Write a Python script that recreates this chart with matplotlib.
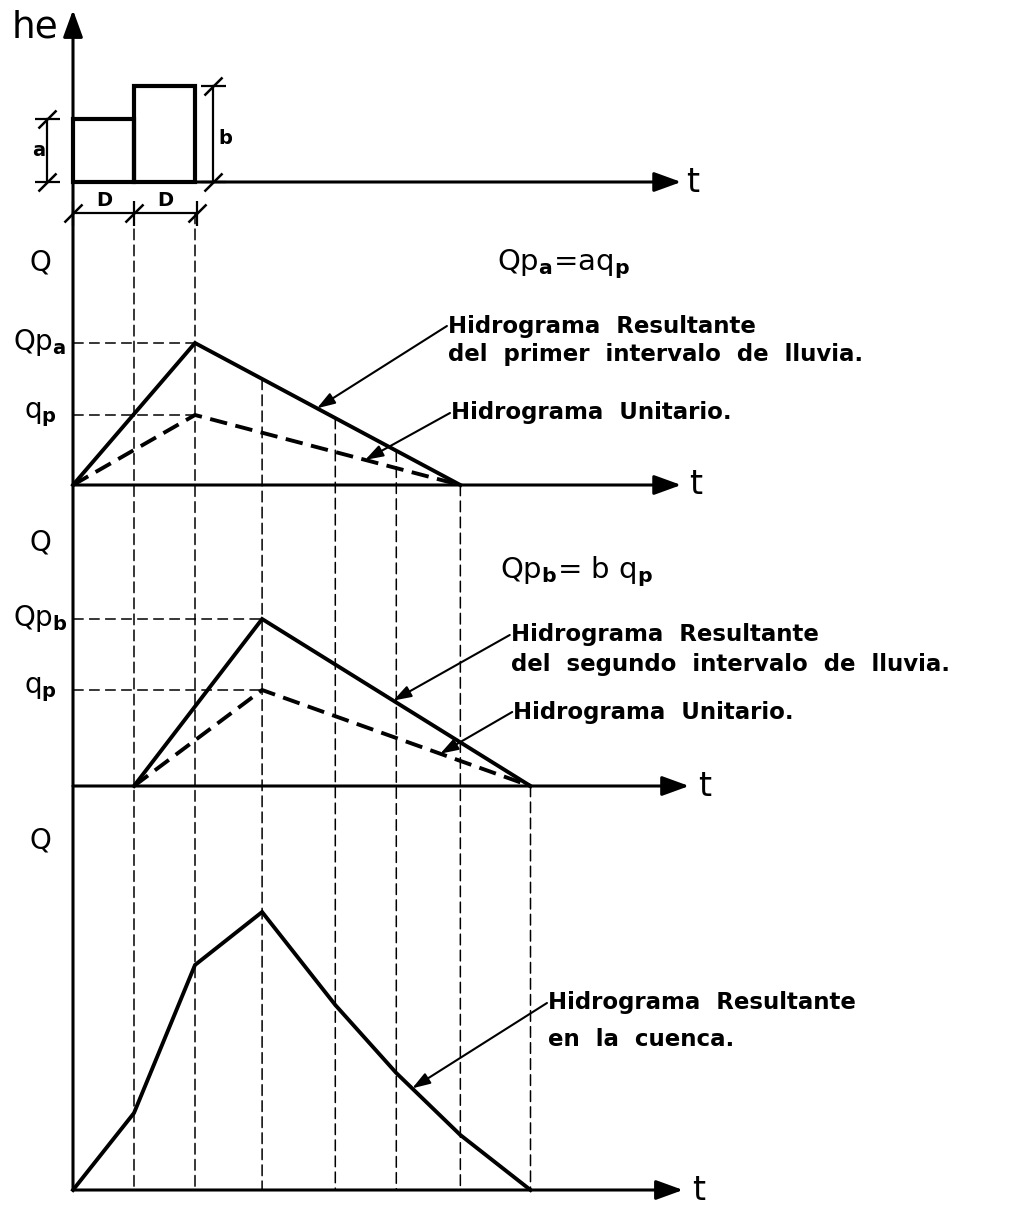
import numpy as np
import matplotlib
matplotlib.use("Agg")
import matplotlib.pyplot as plt
from matplotlib.patches import ConnectionPatch
from matplotlib.markers import MarkerStyle
from matplotlib.path import Path

# ordenadas del hidrograma (tiempo en intervalos D)
t_ord = [0.0, 1.0, 2.0, 3.1, 4.3, 5.3, 6.35, 7.5]

# lluvia efectiva: dos intervalos de duracion D (alturas a y b)
t_lluvia = [0.0, 1.0]
he = [6.3, 9.6]

# hidrograma del primer intervalo de lluvia
t_h1 = [0.0, 2.0, 6.35]
q_h1 = [0.0, 14.2, 0.0]   # resultante, pico Qpa
q_u1 = [0.0, 7.0, 0.0]    # unitario, pico qp

# hidrograma del segundo intervalo de lluvia
t_h2 = [1.0, 3.1, 7.5]
q_h2 = [0.0, 16.7, 0.0]   # resultante, pico Qpb
q_u2 = [0.0, 9.6, 0.0]    # unitario, pico qp

# hidrograma resultante en la cuenca (en t_ord)
q_res = [0.0, 7.7, 22.5, 27.8, 18.5, 11.7, 5.5, 0.0]

W, H = 1015, 1206
X0, PX, SC = 73, 61.0, 10.0

plt.rcParams['font.family'] = ['DejaVu Sans']
fig = plt.figure(figsize=(W / 100, H / 100), dpi=100)


def panel(top, bottom, base):
    ax = fig.add_axes([0, 1 - bottom / H, 1, (bottom - top) / H])
    ax.set_xlim(-X0 / PX, (W - X0) / PX)
    ax.set_ylim((base - bottom) / SC, (base - top) / SC)
    ax.axis('off')
    return ax


ax0 = panel(0, 230, 182)
ax1 = panel(230, 500, 485)
ax2 = panel(500, 800, 786)
ax3 = panel(800, H, 1190)

AX_LW = 2.2
HEAD = '-|>,head_length=0.55,head_width=0.2'


def t_axis(ax, t_end, t_lab):
    ax.annotate('', xy=(t_end, 0), xytext=(0, 0),
                arrowprops=dict(arrowstyle=HEAD, lw=AX_LW, color='k',
                                shrinkA=0, shrinkB=0, mutation_scale=30))
    ax.text(t_lab, 0, 't', fontsize=24, ha='left', va='center')


t_axis(ax0, 9.97, 10.05)
t_axis(ax1, 9.97, 10.1)
t_axis(ax2, 10.1, 10.25)
t_axis(ax3, 10.0, 10.15)

# eje vertical comun
con = ConnectionPatch(xyA=(0, 0), coordsA=ax3.transData,
                      xyB=(0, 17.2), coordsB=ax0.transData,
                      arrowstyle=HEAD, lw=AX_LW, color='k',
                      shrinkA=0, shrinkB=0, mutation_scale=30)
fig.add_artist(con)

# hietograma
ax0.bar(t_lluvia, he, width=1.0, align='edge', fill=False,
        edgecolor='k', lw=3)
ax0.text(-0.62, 15.4, 'he', fontsize=27, ha='center', va='center')

slash = MarkerStyle(Path([(-1, -1), (1, 1)]))


def dim_line(ax, xs, ys, tick):
    ax.plot(xs, ys, color='k', lw=1.6)
    ax.plot(xs, ys, ls='none', marker=slash, ms=13, mew=1.8, color='k')
    ax.plot(xs, ys, ls='none', marker=tick, ms=18, mew=1.6, color='k')


dim_line(ax0, [-0.43, -0.43], [0, he[0]], '_')
dim_line(ax0, [2.3, 2.3], [0, he[1]], '_')
dim_line(ax0, [0, 1, 2.03], [-3.1, -3.1, -3.1], '|')
ax0.text(-0.57, he[0] / 2, 'a', fontsize=14, fontweight='bold',
         ha='center', va='center')
ax0.text(2.49, 4.4, 'b', fontsize=14, fontweight='bold',
         ha='center', va='center')
for tc in [0.52, 1.51]:
    ax0.text(tc, -1.8, 'D', fontsize=14, fontweight='bold',
             ha='center', va='center')

# hidrogramas parciales
HY_LW = 2.8
DASH_HY = (0, (4.5, 2.2))
DASH_G = (0, (7, 3.5))
G_LW = 1.1

for ax, th, qh, qu, pk, qlab in [
        (ax1, t_h1, q_h1, q_u1, 'a', 22.2),
        (ax2, t_h2, q_h2, q_u2, 'b', 24.4)]:
    ax.plot(th, qh, color='k', lw=HY_LW, solid_joinstyle='miter')
    ax.plot(th, qu, color='k', lw=HY_LW, ls=DASH_HY)
    for q in [qh[1], qu[1]]:
        ax.plot([0, th[1]], [q, q], color='k', lw=G_LW, ls=DASH_G)
    ax.text(-0.54, qlab, 'Q', fontsize=20, ha='center', va='center')
    ax.text(-0.54, qh[1], 'Qp$_{\\mathbf{' + pk + '}}$', fontsize=20,
            ha='center', va='center')
    ax.text(-0.54, qu[1], 'q$_{\\mathbf{p}}$', fontsize=20,
            ha='center', va='center')

ax3.plot(t_ord, q_res, color='k', lw=HY_LW, solid_joinstyle='miter')
ax3.text(-0.54, 35.0, 'Q', fontsize=20, ha='center', va='center')

# lineas de ordenadas
starts = [(ax0, -3.1), (ax0, -3.1),
          (ax1, np.interp(t_ord[3], t_h1, q_h1)),
          (ax1, np.interp(t_ord[4], t_h1, q_h1)),
          (ax1, np.interp(t_ord[5], t_h1, q_h1)),
          (ax1, 0.0), (ax2, 0.0)]
for tt, (axs, ys) in zip(t_ord[1:], starts):
    c = ConnectionPatch(xyA=(tt, ys), coordsA=axs.transData,
                        xyB=(tt, 0), coordsB=ax3.transData,
                        arrowstyle='-', lw=G_LW, ls=DASH_G, color='k')
    fig.add_artist(c)

# textos y flechas
TXT = dict(fontsize=16.5, fontweight='bold', ha='left', va='center')
ARW = dict(arrowstyle='-|>,head_length=0.6,head_width=0.2', lw=1.5,
           color='k', shrinkA=0, shrinkB=0, mutation_scale=18)


def callout(ax, lines, x, y, dy, target):
    for i, s in enumerate(lines):
        ax.text(x + 0.02, y - i * dy, s, **TXT)
    ax.annotate('', xy=target, xytext=(x, y), arrowprops=ARW)


ax1.text(6.95, 22.1, 'Qp$_{\\mathbf{a}}$=aq$_{\\mathbf{p}}$', fontsize=21,
         ha='left', va='center')
callout(ax1, ['Hidrograma  Resultante', 'del  primer  intervalo  de  lluvia.'],
        6.13, 15.9, 2.8, (4.0, np.interp(4.0, t_h1, q_h1)))
callout(ax1, ['Hidrograma  Unitario.'], 6.18, 7.2, 0,
        (4.79, np.interp(4.79, t_h1, q_u1)))

ax2.text(7.0, 21.4, 'Qp$_{\\mathbf{b}}$= b q$_{\\mathbf{p}}$', fontsize=21,
         ha='left', va='center')
callout(ax2, ['Hidrograma  Resultante', 'del  segundo  intervalo  de  lluvia.'],
        7.16, 15.1, 2.9, (5.25, np.interp(5.25, t_h2, q_h2)))
callout(ax2, ['Hidrograma  Unitario.'], 7.2, 7.4, 0,
        (6.02, np.interp(6.02, t_h2, q_u2)))

callout(ax3, ['Hidrograma  Resultante', 'en  la  cuenca.'],
        7.77, 18.7, 3.7, (5.56, np.interp(5.56, t_ord, q_res)))

fig.savefig('out.png', dpi=100)
